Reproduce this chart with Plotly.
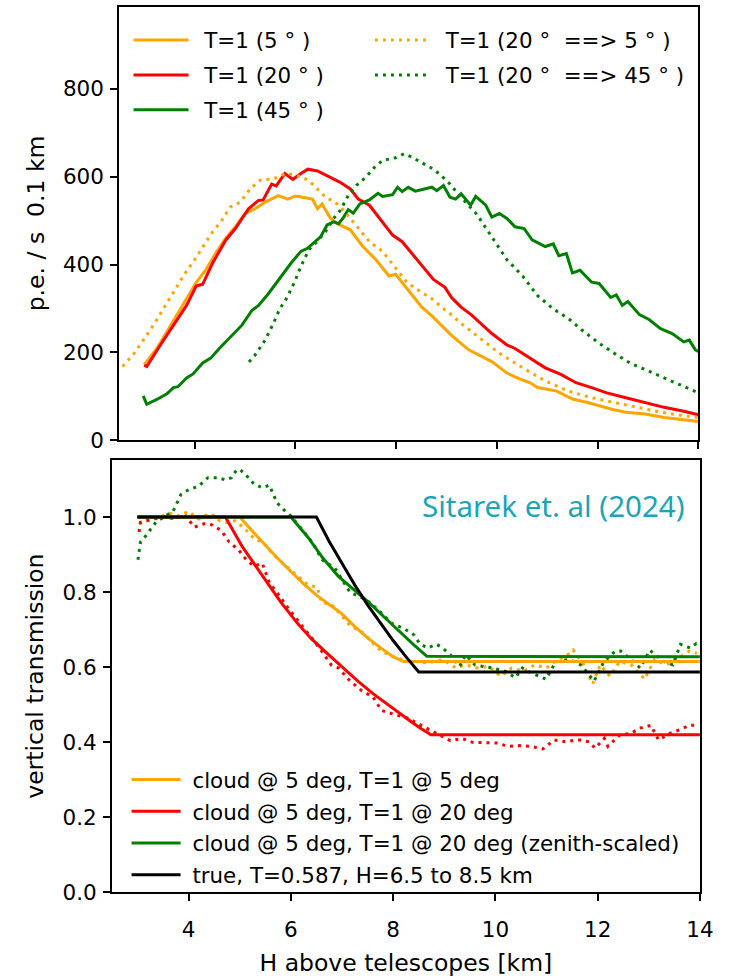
import plotly.graph_objects as go

# ---------------- top panel data (p.e. / s 0.1 km) ----------------
top_o5_x = [3.0, 3.25, 3.45, 3.64, 3.84, 4.03, 4.23, 4.42, 4.62, 4.81, 5.0, 5.2, 5.4, 5.66, 5.85, 6.0, 6.14, 6.34, 6.44, 6.53,
            6.7, 6.83, 7.09, 7.34, 7.6, 7.86, 7.99, 8.25, 8.51, 8.71, 8.9, 9.1, 9.44, 9.7, 9.9, 10.2, 10.45, 10.66, 10.81, 11.19,
            11.5, 11.8, 12.03, 12.3, 12.56, 12.94, 13.32, 13.7, 14.0]
top_o5_y = [172, 209, 247, 284, 322, 359, 389, 426, 460, 486, 516, 527, 542, 557, 549, 556, 553, 549, 527, 538,
            505, 493, 479, 441, 411, 374, 378, 340, 303, 283, 262, 239, 206, 190, 179, 153, 140, 131, 120, 112,
            94, 86, 78, 70, 64, 60, 52, 47, 43]

top_r20_x = [3.0, 3.05, 3.32, 3.58, 3.84, 4.03, 4.16, 4.36, 4.62, 4.81, 5.07, 5.27, 5.36, 5.53, 5.62, 5.79, 5.95, 6.11,
             6.25, 6.44, 6.7, 6.89, 7.09, 7.25, 7.47, 7.67, 7.93, 8.12, 8.38, 8.57, 8.74, 8.97, 9.1, 9.29, 9.5, 9.9,
             10.2, 10.36, 10.66, 10.96, 11.27, 11.57, 11.88, 12.18, 12.56, 12.94, 13.32, 13.71, 14.0]
top_r20_y = [171, 168, 217, 262, 307, 351, 355, 404, 456, 482, 527, 546, 547, 583, 579, 607, 594, 607,
             617, 613, 598, 587, 572, 549, 535, 505, 467, 452, 415, 389, 366, 348, 325, 303, 285, 243,
             217, 209, 187, 165, 150, 131, 120, 108, 97, 86, 75, 66, 58]

top_g45_x = [2.98, 3.05, 3.25, 3.45, 3.58, 3.67, 3.84, 3.97, 4.16, 4.32, 4.49, 4.75, 4.94, 5.14, 5.27, 5.46, 5.59, 5.75,
             5.92, 6.11, 6.24, 6.37, 6.5, 6.63, 6.76, 6.86, 6.96, 7.05, 7.15, 7.28, 7.47, 7.64, 7.73, 7.93, 8.03, 8.12,
             8.24, 8.38, 8.71, 8.81, 8.94, 9.07, 9.18, 9.29, 9.48, 9.58, 9.78, 9.9, 10.05, 10.2, 10.36, 10.54, 10.7,
             10.96, 11.12, 11.23, 11.38, 11.5, 11.65, 11.88, 12.03, 12.26, 12.37, 12.49, 12.6, 12.83, 13.02, 13.25,
             13.48, 13.71, 13.82, 13.94, 14.0]
top_g45_y = [101, 82, 93, 106, 120, 122, 142, 151, 176, 187, 209, 239, 262, 296, 307, 333, 353, 378,
             404, 430, 437, 450, 463, 490, 497, 493, 508, 525, 517, 538, 547, 562, 555, 559, 576, 566,
             576, 567, 576, 568, 580, 553, 549, 561, 535, 555, 535, 508, 516, 505, 486, 482, 456,
             441, 447, 420, 425, 381, 387, 360, 357, 325, 331, 307, 316, 286, 275, 254,
             243, 224, 228, 206, 202]

top_o20to5_x = [2.57, 2.8, 3.03, 3.22, 3.42, 3.61, 3.8, 4.0, 4.19, 4.36, 4.52, 4.71, 4.91, 5.1, 5.3, 5.49, 5.65, 5.79,
                5.95, 6.11, 6.27, 6.43, 6.6, 6.79, 6.96, 7.15, 7.31, 7.47, 7.73, 7.86, 8.06, 8.19, 8.35, 8.51, 8.71,
                8.9, 9.07, 9.3, 9.59, 10.05, 10.51, 10.96, 11.42, 11.88, 12.33, 12.79, 13.25, 13.71, 14.0]
top_o20to5_y = [168, 198, 236, 269, 307, 342, 378, 411, 445, 475, 497, 531, 542, 572, 592, 594, 598, 607,
                605, 600, 591, 572, 553, 542, 523, 497, 475, 452, 430, 411, 381, 363, 348, 336, 322,
                303, 288, 265, 239, 198, 165, 135, 112, 97, 86, 75, 64, 56, 52]

top_g20to45_x = [5.08, 5.2, 5.4, 5.56, 5.69, 5.82, 5.98, 6.11, 6.27, 6.43, 6.6, 6.76, 6.89, 7.05, 7.21, 7.41, 7.57,
                 7.73, 7.99, 8.16, 8.32, 8.51, 8.74, 8.9, 9.07, 9.29, 9.59, 9.9, 10.2, 10.51, 10.81, 11.12, 11.42,
                 11.73, 12.03, 12.33, 12.64, 12.94, 13.25, 13.56, 13.87, 14.0]
top_g20to45_y = [178, 194, 228, 265, 299, 322, 359, 396, 434, 452, 475, 505, 523, 557, 580, 600, 621,
                 637, 643, 652, 644, 632, 617, 602, 583, 553, 516, 463, 411, 374, 329, 299, 277,
                 247, 221, 198, 176, 161, 146, 131, 116, 108]

# ---------------- bottom panel data (vertical transmission) ----------------
fit_o_x = [3.0, 5.0, 5.25, 5.5, 5.75, 6.0, 6.25, 6.5, 6.75, 7.0, 7.25, 7.5, 7.75, 8.0, 8.2, 14.0]
fit_o_y = [1.0, 1.0, 0.962, 0.925, 0.889, 0.855, 0.822, 0.792, 0.768, 0.742, 0.708, 0.678, 0.652, 0.628, 0.615, 0.615]

fit_r_x = [3.0, 4.72, 5.05, 5.5, 5.8, 6.11, 6.4, 6.71, 7.0, 7.31, 7.6, 7.91, 8.15, 8.36, 8.55, 8.74, 14.0]
fit_r_y = [1.0, 1.0, 0.921, 0.833, 0.774, 0.72, 0.676, 0.637, 0.6, 0.563, 0.53, 0.498, 0.474, 0.454, 0.436, 0.42, 0.42]

fit_g_x = [3.0, 6.0, 6.33, 6.63, 6.93, 7.23, 7.53, 7.83, 8.13, 8.4, 8.66, 14.0]
fit_g_y = [1.0, 1.0, 0.947, 0.89, 0.842, 0.806, 0.772, 0.733, 0.694, 0.66, 0.629, 0.628]

true_x = [3.0, 6.5, 6.75, 7.0, 7.25, 7.5, 7.75, 8.0, 8.25, 8.5, 14.0]
true_y = [1.0, 1.0, 0.935, 0.875, 0.819, 0.766, 0.717, 0.671, 0.628, 0.587, 0.587]

dot_o_x = [3.03, 3.17, 3.32, 3.51, 3.63, 3.81, 4.0, 4.19, 4.42, 4.61, 4.76, 4.91, 5.1, 5.28, 5.47, 5.66, 5.85, 6.07,
           6.33, 6.52, 6.6, 6.79, 7.01, 7.16, 7.43, 7.61, 7.77, 7.99, 8.18, 8.44, 8.67, 8.97, 9.23, 9.42, 9.64, 9.87,
           10.1, 10.32, 10.55, 10.77, 11.0, 11.22, 11.41, 11.52, 11.71, 11.9, 12.05, 12.24, 12.43, 12.66, 12.92,
           13.11, 13.34, 13.56, 13.79, 13.94]
dot_o_y = [0.982, 0.99, 0.995, 1.003, 1.01, 1.003, 1.015, 0.995, 1.01, 0.99, 0.985, 0.99, 0.969, 0.943, 0.931, 0.899,
           0.877, 0.851, 0.82, 0.812, 0.772, 0.768, 0.733, 0.711, 0.69, 0.663, 0.643, 0.628, 0.62, 0.615, 0.611, 0.62,
           0.598, 0.606, 0.598, 0.602, 0.576, 0.598, 0.589, 0.606, 0.598, 0.62, 0.633, 0.646, 0.611, 0.555, 0.606,
           0.576, 0.615, 0.606, 0.568, 0.62, 0.606, 0.622, 0.643, 0.637]

dot_r_x = [3.03, 3.06, 3.17, 3.32, 3.55, 3.74, 3.93, 4.11, 4.3, 4.42, 4.64, 4.79, 4.98, 5.13, 5.28, 5.44, 5.58, 5.73,
           5.96, 6.11, 6.33, 6.56, 6.79, 6.93, 7.16, 7.39, 7.61, 7.77, 8.07, 8.29, 8.59, 8.82, 9.12, 9.35, 9.57, 9.8,
           10.03, 10.25, 10.48, 10.7, 10.93, 11.15, 11.38, 11.61, 11.83, 11.95, 12.13, 12.2, 12.43, 12.66, 12.81,
           13.04, 13.19, 13.42, 13.64, 13.79, 13.94]
dot_r_y = [0.96, 0.986, 0.99, 0.995, 1.0, 0.995, 1.006, 0.973, 0.982, 0.982, 0.964, 0.934, 0.912, 0.886, 0.869, 0.877,
           0.825, 0.799, 0.755, 0.729, 0.69, 0.651, 0.606, 0.598, 0.563, 0.537, 0.52, 0.485, 0.472, 0.464, 0.442,
           0.425, 0.404, 0.41, 0.399, 0.399, 0.398, 0.389, 0.391, 0.389, 0.382, 0.406, 0.401, 0.407, 0.401, 0.384,
           0.41, 0.389, 0.419, 0.424, 0.437, 0.445, 0.406, 0.424, 0.435, 0.445, 0.445]

dot_g_x = [3.01, 3.06, 3.17, 3.36, 3.55, 3.7, 3.85, 4.0, 4.19, 4.38, 4.57, 4.72, 4.84, 4.94, 5.01, 5.13, 5.28, 5.44,
           5.58, 5.66, 5.73, 5.85, 6.0, 6.26, 6.44, 6.6, 6.86, 7.16, 7.46, 7.69, 7.98, 8.21, 8.4, 8.52, 8.67, 8.85,
           8.97, 9.12, 9.3, 9.42, 9.6, 9.93, 10.2, 10.39, 10.53, 10.68, 10.99, 11.18, 11.44, 11.67, 11.93, 12.12,
           12.34, 12.45, 12.64, 12.83, 13.02, 13.28, 13.47, 13.62, 13.81, 13.93, 14.0]
dot_g_y = [0.886, 0.934, 0.951, 0.986, 1.003, 1.016, 1.06, 1.073, 1.082, 1.105, 1.105, 1.099, 1.105, 1.126, 1.126,
           1.111, 1.088, 1.078, 1.085, 1.06, 1.038, 1.021, 1.003, 0.96, 0.929, 0.887, 0.864, 0.799, 0.781, 0.755,
           0.716, 0.703, 0.687, 0.663, 0.651, 0.661, 0.651, 0.633, 0.602, 0.633, 0.606, 0.598, 0.589, 0.572, 0.598,
           0.586, 0.568, 0.614, 0.621, 0.606, 0.563, 0.614, 0.642, 0.643, 0.622, 0.598, 0.645, 0.616, 0.606, 0.661,
           0.651, 0.663, 0.659]

top_yticks = [0, 200, 400, 600, 800]
bot_yticks = [0.0, 0.2, 0.4, 0.6, 0.8, 1.0]
xticks = [4, 6, 8, 10, 12, 14]

ORANGE = "#FFA500"
RED = "#FF0000"
GREEN = "#008000"
FONT = "DejaVu Sans"
LW = 3
DOT = "3px,5px"
SP = "\u2002"   # gap between legend line and label
SP3 = "\u00a0"

fig = go.Figure()

def add(x, y, color, name, xa, ya, dash=None, legend=None, group=None):
    fig.add_trace(go.Scatter(
        x=x, y=y, mode="lines", name=name,
        line=dict(color=color, width=LW, dash=dash if dash else "solid"),
        xaxis=xa, yaxis=ya,
        showlegend=legend is not None,
        legend=legend if legend else "legend",
        legendgroup=group,
    ))

# top panel
add(top_o5_x, top_o5_y, ORANGE, SP + "T=1 (5 ° )", "x", "y", legend="legend", group="a")
add(top_r20_x, top_r20_y, RED, SP + "T=1 (20 ° )", "x", "y", legend="legend", group="b")
add(top_g45_x, top_g45_y, GREEN, SP + "T=1 (45 ° )", "x", "y", legend="legend", group="c")
add(top_o20to5_x, top_o20to5_y, ORANGE, SP + "T=1 (20 °  ==> 5 ° )", "x", "y", dash=DOT, legend="legend2", group="d")
add(top_g20to45_x, top_g20to45_y, GREEN, SP + "T=1 (20 °  ==> 45 ° )", "x", "y", dash=DOT, legend="legend2", group="e")

# bottom panel: measured (dotted) then fits
add(dot_o_x, dot_o_y, ORANGE, "o dots", "x2", "y2", dash=DOT)
add(dot_r_x, dot_r_y, RED, "r dots", "x2", "y2", dash=DOT)
add(dot_g_x, dot_g_y, GREEN, "g dots", "x2", "y2", dash=DOT)
add(fit_o_x, fit_o_y, ORANGE, SP3 + "cloud @ 5 deg, T=1 @ 5 deg", "x2", "y2", legend="legend3", group="f")
add(fit_r_x, fit_r_y, RED, SP3 + "cloud @ 5 deg, T=1 @ 20 deg", "x2", "y2", legend="legend3", group="g")
add(fit_g_x, fit_g_y, GREEN, SP3 + "cloud @ 5 deg, T=1 @ 20 deg (zenith-scaled)", "x2", "y2", legend="legend3", group="h")
add(true_x, true_y, "#000000", SP3 + "true, T=0.587, H=6.5 to 8.5 km", "x2", "y2", legend="legend3", group="i")

W, H = 747, 977
TICK = 21.5
TITLE = 23.5
LEG = 21.4
axis_common = dict(
    showline=True, mirror=True, linecolor="black", linewidth=1.6,
    ticks="outside", ticklen=7, tickwidth=1.6, tickcolor="black",
    showgrid=False, zeroline=False,
    tickfont=dict(family=FONT, size=TICK, color="black"),
)

leg_common = dict(
    font=dict(family=FONT, size=LEG, color="black"),
    bgcolor="rgba(0,0,0,0)", borderwidth=0,
    xanchor="left", yanchor="top", orientation="v",
)

fig.update_layout(
    width=W, height=H,
    margin=dict(l=0, r=0, t=0, b=0),
    paper_bgcolor="white", plot_bgcolor="white",
    font=dict(family=FONT, size=LEG, color="black"),
    xaxis=dict(domain=[121.3 / W, 711.7 / W], range=[2.5, 14], tickvals=xticks,
               showticklabels=False, anchor="y", **axis_common),
    yaxis=dict(domain=[1 - 446.7 / H, 1 - 6.7 / H], range=[0, 987], tickvals=top_yticks,
               anchor="x", ticklabelstandoff=2,
               title=dict(text="p.e. / s  0.1 km", font=dict(family=FONT, size=TITLE), standoff=12),
               **axis_common),
    xaxis2=dict(domain=[114 / W, 713.3 / W], range=[2.5, 14], tickvals=xticks, anchor="y2",
                ticklabelstandoff=10,
                title=dict(text="H above telescopes [km]", font=dict(family=FONT, size=TITLE), standoff=19),
                **axis_common),
    yaxis2=dict(domain=[1 - 905.3 / H, 1 - 466.7 / H], range=[0, 1.152], tickvals=bot_yticks,
                tickformat=".1f", anchor="x2", ticklabelstandoff=2,
                title=dict(text="vertical transmission", font=dict(family=FONT, size=TITLE), standoff=12),
                **axis_common),
    legend=dict(x=131 / W, y=1 - 20 / H, tracegroupgap=4, itemwidth=55, **leg_common),
    legend2=dict(x=377 / W, y=1 - 20 / H, tracegroupgap=4, itemwidth=55, **leg_common),
    legend3=dict(x=129 / W, y=1 - 770 / H, tracegroupgap=1, itemwidth=49, **leg_common),
    annotations=[dict(
        text="Sitarek et. al (2024)", xref="paper", yref="paper",
        x=564 / W, y=1 - 513 / H, xanchor="center", yanchor="middle", showarrow=False,
        font=dict(family="Noto Sans", size=29.5, color="#1AA6B7"),
    )],
)

fig.write_html("out.html")
